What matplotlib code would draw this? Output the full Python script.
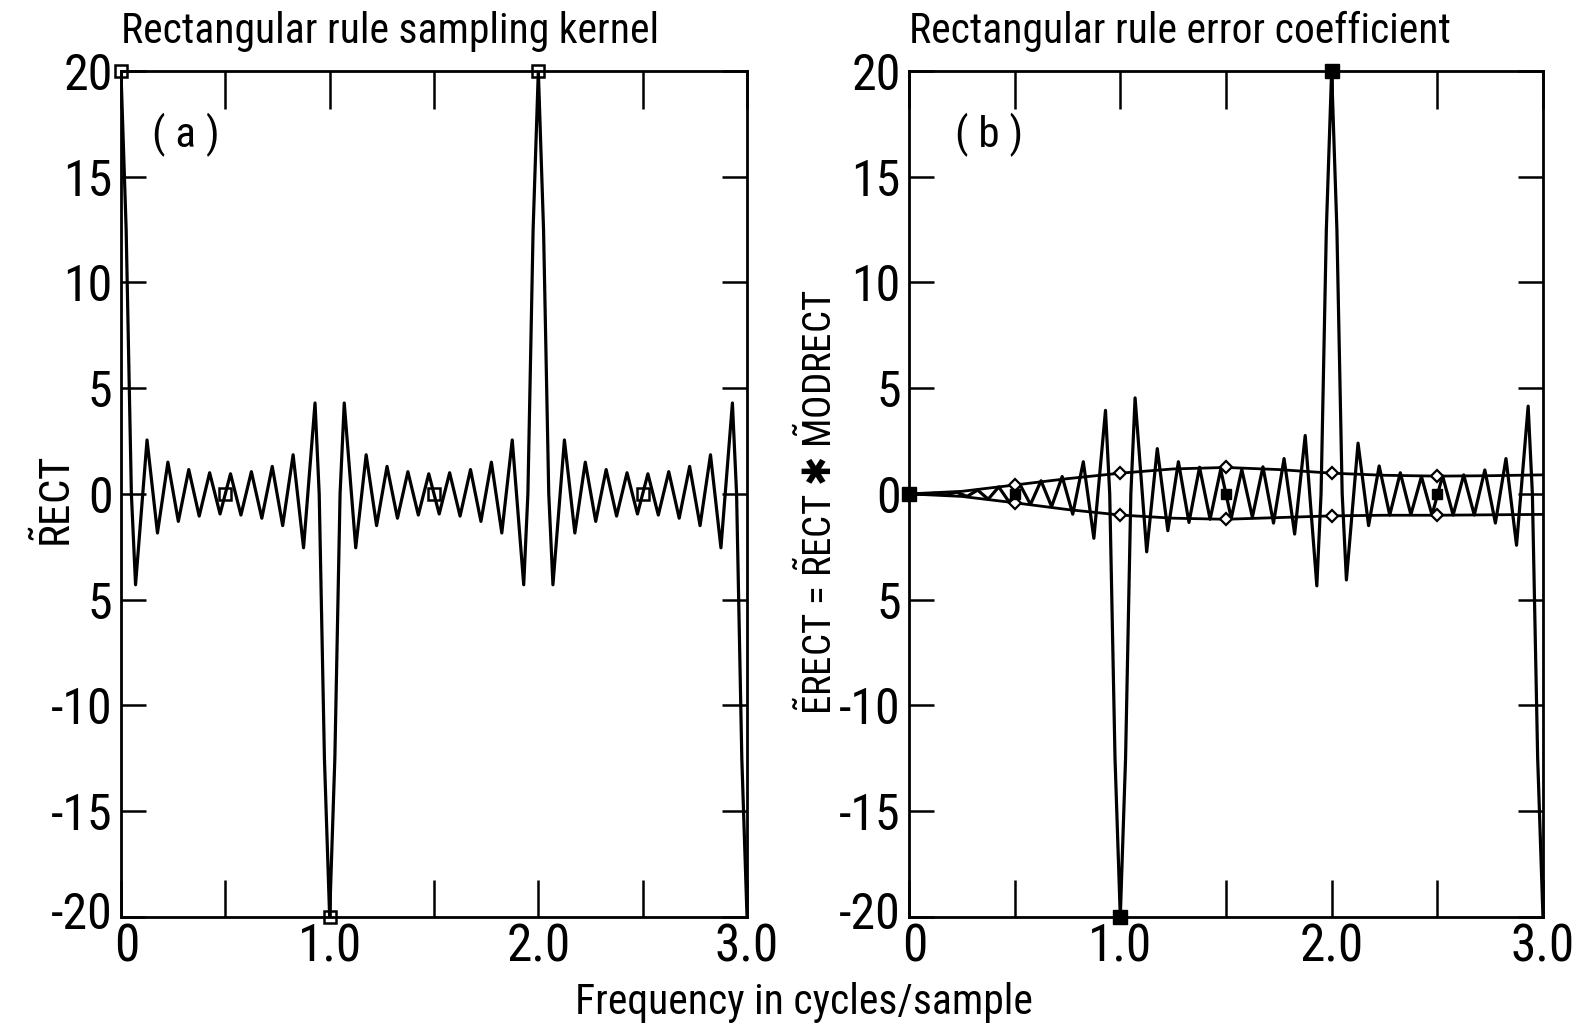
import matplotlib
matplotlib.use("Agg")
import matplotlib.pyplot as plt
from matplotlib.transforms import ScaledTranslation

# ---- data (frequency in cycles/sample) ----
freq = [0.0, 0.025, 0.05, 0.07, 0.125, 0.175, 0.225, 0.275, 0.325, 0.375, 0.425, 0.475,
        0.525, 0.575, 0.625, 0.675, 0.725, 0.775, 0.825, 0.875, 0.93, 0.95, 0.975,
        1.0, 1.025, 1.05, 1.07, 1.125, 1.175, 1.225, 1.275, 1.325, 1.375, 1.425, 1.475,
        1.525, 1.575, 1.625, 1.675, 1.725, 1.775, 1.825, 1.875, 1.93, 1.95, 1.975,
        2.0, 2.025, 2.05, 2.07, 2.125, 2.175, 2.225, 2.275, 2.325, 2.375, 2.425, 2.475,
        2.525, 2.575, 2.625, 2.675, 2.725, 2.775, 2.825, 2.875, 2.93, 2.95, 2.975, 3.0]

# panel (a): rectangular rule sampling kernel
rect = [20, 12.5, 0, -4.3, 2.55, -1.85, 1.5, -1.3, 1.15, -1.05, 1.0, -0.95,
        0.95, -1.0, 1.05, -1.15, 1.3, -1.5, 1.85, -2.55, 4.3, 0, -12.5,
        -20, -12.5, 0, 4.3, -2.55, 1.85, -1.5, 1.3, -1.15, 1.05, -1.0, 0.95,
        -0.95, 1.0, -1.05, 1.15, -1.3, 1.5, -1.85, 2.55, -4.3, 0, 12.5,
        20, 12.5, 0, -4.3, 2.55, -1.85, 1.5, -1.3, 1.15, -1.05, 1.0, -0.95,
        0.95, -1.0, 1.05, -1.15, 1.3, -1.5, 1.85, -2.55, 4.3, 0, -12.5, -20]

# panel (b): error coefficient
erect = [0, 0, 0, -0.01, 0.03, -0.05, 0.08, -0.12, 0.18, -0.25, 0.33, -0.4,
         0.45, -0.5, 0.62, -0.6, 0.82, -0.96, 1.52, -2.1, 3.95, 0, -12.5,
         -20, -12.5, 0, 4.54, -2.74, 2.14, -1.74, 1.52, -1.35, 1.26, -1.2, 1.15,
         -1.15, 1.15, -1.1, 1.28, -1.38, 1.67, -1.9, 2.76, -4.35, 0, 12.5,
         20, 12.5, 0, -4.07, 2.4, -1.5, 1.32, -1.0, 1.0, -0.98, 0.82, -1.0,
         0.85, -1.0, 0.9, -1.0, 1.13, -1.38, 1.67, -2.43, 4.15, 0, -12.5, -20]

env_x = [0, 0.25, 0.5, 0.75, 1.0, 1.25, 1.5, 1.75, 2.0, 2.25, 2.5, 2.75, 3.0]
env_upper = [0, 0.12, 0.42, 0.72, 0.98, 1.18, 1.25, 1.15, 0.98, 0.88, 0.84, 0.86, 0.9]
env_lower = [0, -0.12, -0.42, -0.74, -1.0, -1.15, -1.2, -1.12, -1.04, -1.01, -1.01, -0.99, -0.97]

# sample markers
sq_x = [0.0, 0.5, 1.0, 1.5, 2.0, 2.5]
sq_a = [20, 0, -20, 0, 20, 0]
big_x = [0.0, 1.0, 2.0]
big_b = [0, -20, 20]
small_x = [0.5, 1.5, 2.5]
small_b = [0, 0, 0]
dia_x = [0.5, 1.0, 1.5, 2.0, 2.5]
dia_upper = [0.42, 0.98, 1.25, 0.98, 0.84]
dia_lower = [-0.42, -1.0, -1.2, -1.04, -1.01]

yticks = [-20, -15, -10, -5, 0, 5, 10, 15, 20]
ytick_labels = ["-20", "-15", "-10", "5", "0", "5", "10", "15", "20"]
xticks = [0, 0.5, 1.0, 1.5, 2.0, 2.5, 3.0]
xtick_labels = ["0", "", "1.0", "", "2.0", "", "3.0"]

plt.rcParams["font.family"] = ["Roboto Condensed", "DejaVu Sans"]
plt.rcParams["font.stretch"] = "condensed"
plt.rcParams["mathtext.fontset"] = "custom"
plt.rcParams["mathtext.rm"] = "Roboto Condensed"
plt.rcParams["mathtext.it"] = "Roboto Condensed"
plt.rcParams["mathtext.bf"] = "Roboto Condensed"
plt.rcParams["mathtext.sf"] = "DejaVu Sans"

fig = plt.figure(figsize=(15.83, 10.30), dpi=100)
ax_a = fig.add_axes([0.0764, 0.110, 0.3955, 0.821])
ax_b = fig.add_axes([0.5742, 0.110, 0.4005, 0.821])


def style_axes(ax):
    ax.set_xlim(0, 3.0)
    ax.set_ylim(-20, 20)
    ax.set_yticks(yticks)
    ax.set_yticklabels(ytick_labels)
    ax.set_xticks(xticks)
    ax.set_xticklabels(xtick_labels)
    ax.tick_params(axis="y", direction="in", length=18, width=1.8, left=True, right=True,
                   labelsize=36, pad=6)
    ax.tick_params(axis="x", direction="in", length=27, width=1.8, top=True, bottom=True,
                   labelsize=37, pad=4)
    for sp in ax.spines.values():
        sp.set_linewidth(2.0)
    # corner labels sit a little apart in the original
    ylab = ax.get_yticklabels()[0]
    ylab.set_transform(ylab.get_transform() + ScaledTranslation(0, 5 / 72, fig.dpi_scale_trans))
    xlab = ax.get_xticklabels()[0]
    xlab.set_transform(xlab.get_transform() + ScaledTranslation(4 / 72, 0, fig.dpi_scale_trans))


# panel (a)
ax_a.plot(freq, rect, color="black", lw=2.3)
ax_a.plot(sq_x, sq_a, ls="none", marker="s", ms=8, mfc="none", mec="black", mew=1.8,
          clip_on=False)
style_axes(ax_a)
ax_a.text(0.0, 1.022, "Rectangular rule sampling kernel", transform=ax_a.transAxes,
          fontsize=30, ha="left", va="bottom")
ax_a.text(0.15, 17, "( a )", fontsize=31, ha="left", va="center")
ax_a.set_ylabel(r"$\tilde{\mathrm{R}}$ECT", fontsize=31)
ax_a.yaxis.set_label_coords(-0.066, 0.49)

# panel (b)
ax_b.plot(freq, erect, color="black", lw=2.3)
ax_b.plot(env_x, env_upper, color="black", lw=2.0)
ax_b.plot(env_x, env_lower, color="black", lw=2.0)
ax_b.plot(dia_x, dia_upper, ls="none", marker="D", ms=6, mfc="white", mec="black", mew=1.6)
ax_b.plot(dia_x, dia_lower, ls="none", marker="D", ms=6, mfc="white", mec="black", mew=1.6)
ax_b.plot(big_x, big_b, ls="none", marker="s", ms=10, color="black", clip_on=False)
ax_b.plot(small_x, small_b, ls="none", marker="s", ms=7, color="black")
style_axes(ax_b)
ax_b.text(0.0, 1.022, "Rectangular rule error coefficient", transform=ax_b.transAxes,
          fontsize=30, ha="left", va="bottom")
ax_b.text(0.22, 17, "( b )", fontsize=31, ha="left", va="center")
ax_b.set_ylabel(r"$\tilde{\mathrm{E}}$RECT = $\tilde{\mathrm{R}}$ECT $\mathsf{✱}$ $\tilde{\mathrm{M}}$ODRECT",
                fontsize=28)
ax_b.yaxis.set_label_coords(-0.108, 0.49)

fig.text(0.508, 0.027, "Frequency in cycles/sample", fontsize=30, ha="center", va="center")

fig.savefig("out.png", dpi=100)
